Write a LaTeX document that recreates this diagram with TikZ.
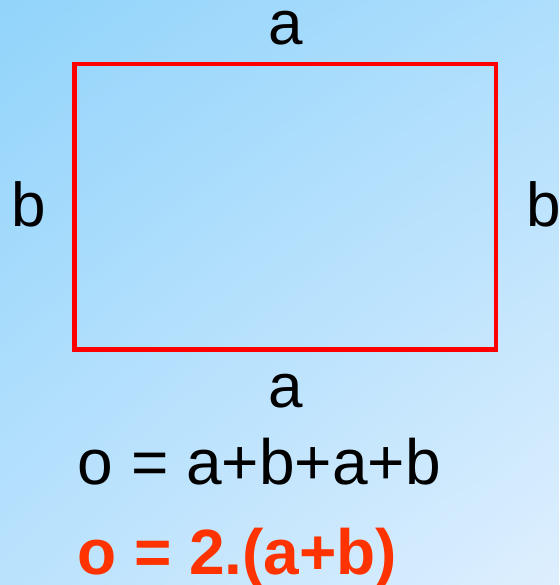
\documentclass[tikz,border=0pt]{standalone}
\usepackage{fontspec}
\setmainfont{Liberation Sans}
\usetikzlibrary{shadings}
\definecolor{bgtl}{HTML}{92D4FB}
\definecolor{bgtr}{HTML}{AEDEFC}
\definecolor{bgbl}{HTML}{BAE2FD}
\definecolor{bgbr}{HTML}{DEEFFE}
\definecolor{edgered}{HTML}{FF0000}
\definecolor{resultred}{HTML}{FF3300}
\tikzset{
  side/.style={anchor=base,font=\fontsize{62}{70}\selectfont},
  formula/.style={anchor=base west,inner sep=0pt,font=\fontsize{64}{72}\selectfont}
}
\begin{document}
\begin{tikzpicture}[x=1pt,y=-1pt]
\shade[upper left=bgtl,upper right=bgtr,lower left=bgbl,lower right=bgbr] (0,0) rectangle (559,585);
\useasboundingbox (0,0) rectangle (559,585);

\draw[edgered,line width=4.5pt] (74.5,64) rectangle (496,349.5);

\node[side] (atop) at (286,44.5) {a};
\node[side] (abot) at (286,407) {a};
\node[side] (bleft) at (28.5,226) {b};
\node[side] (bright) at (543.5,226) {b};

\node[formula] (sum) at (77.5,484) {o = a+b+a+b};
\node[formula,resultred,font=\fontsize{64}{72}\selectfont\bfseries] (short) at (77,574) {o = 2.(a+b)};
\end{tikzpicture}
\end{document}
